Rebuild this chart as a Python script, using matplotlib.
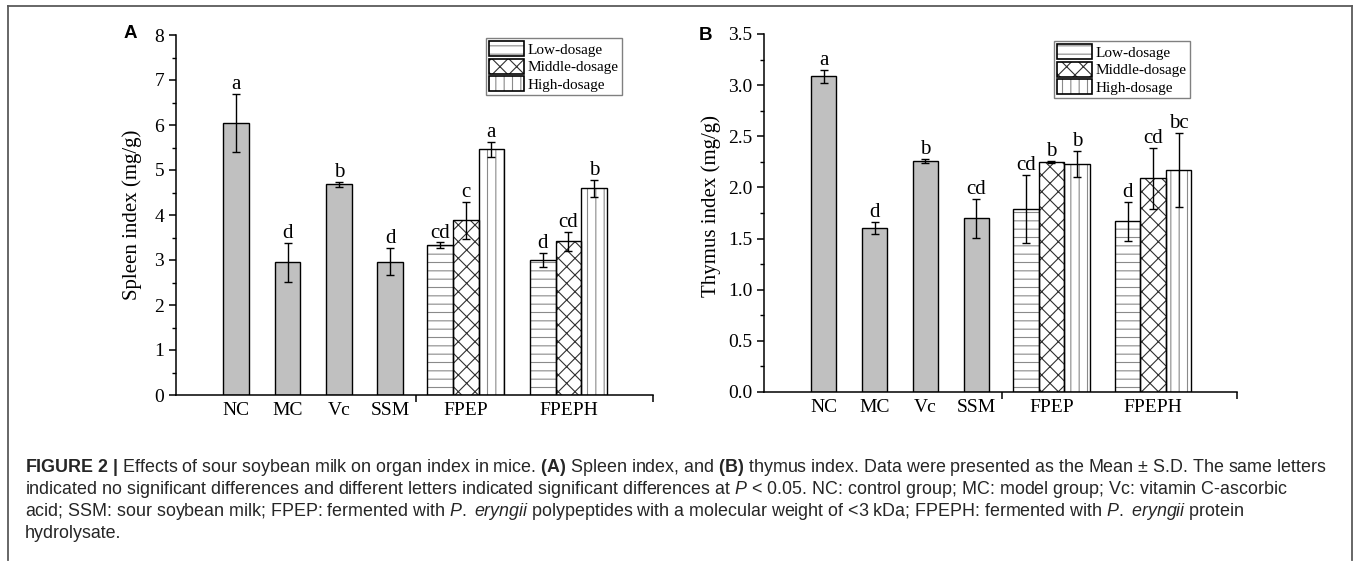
import matplotlib
matplotlib.use('Agg')
import matplotlib.pyplot as plt
from matplotlib.patches import Patch
from matplotlib.lines import Line2D
from matplotlib.ticker import MultipleLocator, FormatStrFormatter, FixedLocator

# ---------------- data ----------------
single_groups = ['NC', 'MC', 'Vc', 'SSM']
dosed_groups = ['FPEP', 'FPEPH']
dosages = ['Low-dosage', 'Middle-dosage', 'High-dosage']

spleen_single = [6.05, 2.95, 4.68, 2.96]
spleen_single_err = [0.65, 0.43, 0.06, 0.30]
spleen_single_letters = ['a', 'd', 'b', 'd']
spleen_dosed = [[3.33, 3.88, 5.46], [3.00, 3.42, 4.59]]
spleen_dosed_err = [[0.06, 0.41, 0.16], [0.15, 0.21, 0.18]]
spleen_dosed_letters = [['cd', 'c', 'a'], ['d', 'cd', 'b']]

thymus_single = [3.085, 1.60, 2.26, 1.70]
thymus_single_err = [0.06, 0.06, 0.02, 0.19]
thymus_single_letters = ['a', 'd', 'b', 'cd']
thymus_dosed = [[1.79, 2.25, 2.23], [1.67, 2.09, 2.17]]
thymus_dosed_err = [[0.33, 0.01, 0.13], [0.19, 0.30, 0.36]]
thymus_dosed_letters = [['cd', 'b', 'b'], ['d', 'cd', 'bc']]

# ---------------- style ----------------
W, H = 1357, 563
plt.rcParams['font.family'] = ['Liberation Serif', 'DejaVu Serif']
plt.rcParams['mathtext.fontset'] = 'custom'
plt.rcParams['mathtext.rm'] = 'Liberation Sans'
plt.rcParams['mathtext.bf'] = 'Liberation Sans:bold'
plt.rcParams['mathtext.it'] = 'Liberation Sans:italic'
plt.rcParams['hatch.linewidth'] = 0.8

single_x = [2.35, 4.35, 6.35, 8.35]
dosed_x = [11.3, 15.3]
sep_x = 9.35
x_max = 18.6
bar_w = 1.0
bar_gray = '#c0c0c0'
hatches = ['--', 'xx', '||']
hatch_cols = ['#8a8a8a', '#303030', '#8a8a8a']

fig = plt.figure(figsize=(W / 100, H / 100), dpi=100)


def fx(px):
    return px / W


def fy(py):
    return 1 - py / H


def draw_panel(ax, single, single_err, single_letters, dosed, dosed_err,
               dosed_letters, ymax, major, minor, fmt, ylabel, ylab_x, ylab_y):
    ax.bar(single_x, single, width=bar_w, color=bar_gray, edgecolor='black',
           linewidth=1.0, zorder=2)
    ax.errorbar(single_x, single, yerr=single_err, fmt='none', ecolor='black',
                elinewidth=1.0, capsize=3, capthick=1.0, zorder=3)
    for xi, v, e, lt in zip(single_x, single, single_err, single_letters):
        ax.annotate(lt, (xi, v + e), xytext=(0, 3.5), textcoords='offset points',
                    ha='center', va='baseline', fontsize=15)
    for gi, gx in enumerate(dosed_x):
        for di in range(3):
            xi = gx + (di - 1) * bar_w
            v = dosed[gi][di]
            e = dosed_err[gi][di]
            ax.bar(xi, v, width=bar_w, color='white', edgecolor=hatch_cols[di],
                   hatch=hatches[di], linewidth=0, zorder=2)
            ax.bar(xi, v, width=bar_w, fill=False, edgecolor='black',
                   linewidth=1.0, zorder=2.5)
            ax.errorbar([xi], [v], yerr=[e], fmt='none', ecolor='black',
                        elinewidth=1.0, capsize=3, capthick=1.0, zorder=3)
            ax.annotate(dosed_letters[gi][di], (xi, v + e), xytext=(0, 3.5),
                        textcoords='offset points', ha='center',
                        va='baseline', fontsize=15)
    ax.set_xlim(0, x_max)
    ax.set_ylim(0, ymax)
    for s in ['top', 'right']:
        ax.spines[s].set_visible(False)
    for s in ['left', 'bottom']:
        ax.spines[s].set_linewidth(1.1)
    ax.set_xticks(single_x + dosed_x)
    ax.set_xticklabels(single_groups + dosed_groups, fontsize=14)
    ax.xaxis.set_minor_locator(FixedLocator([sep_x, x_max - 1e-6]))
    ax.tick_params(axis='x', which='major', length=0, pad=5)
    ax.tick_params(axis='x', which='minor', length=5, width=1.1, direction='out')
    ax.yaxis.set_major_locator(MultipleLocator(major))
    ax.yaxis.set_minor_locator(MultipleLocator(minor))
    ax.yaxis.set_major_formatter(FormatStrFormatter(fmt))
    ax.tick_params(axis='y', which='major', length=5, width=1.1, direction='out',
                   labelsize=14, pad=3.5)
    ax.tick_params(axis='y', which='minor', length=3, width=1.0, direction='out')
    ax.set_ylabel(ylabel, fontsize=15, va='center')
    ax.yaxis.set_label_coords(ylab_x, ylab_y)


axA = fig.add_axes([fx(176), fy(395), fx(653) - fx(176), fy(35) - fy(395)])
axB = fig.add_axes([fx(764), fy(392), fx(1237) - fx(764), fy(34) - fy(392)])

draw_panel(axA, spleen_single, spleen_single_err, spleen_single_letters,
           spleen_dosed, spleen_dosed_err, spleen_dosed_letters,
           8, 1, 0.5, '%d', 'Spleen index (mg/g)', -0.092, 0.5)
draw_panel(axB, thymus_single, thymus_single_err, thymus_single_letters,
           thymus_dosed, thymus_dosed_err, thymus_dosed_letters,
           3.5, 0.5, 0.25, '%.1f', 'Thymus index (mg/g)', -0.112, 0.52)

# legends
handles = [(Patch(facecolor='white', edgecolor=hatch_cols[i], hatch=hatches[i], linewidth=0),
            Patch(fill=False, edgecolor='black', linewidth=1.2)) for i in range(3)]
for ax, (lx, ly) in [(axA, (486, 38)), (axB, (1054, 41))]:
    leg = ax.legend(handles, dosages, loc='upper left',
                    bbox_to_anchor=(fx(lx), fy(ly)), bbox_transform=fig.transFigure,
                    borderaxespad=0, borderpad=0.2, handlelength=2.3,
                    handleheight=1.15, labelspacing=0.12, handletextpad=0.25,
                    fancybox=False, framealpha=1, edgecolor='#808080',
                    prop={'family': 'Liberation Serif', 'size': 11})
    leg.get_frame().set_linewidth(1.0)

# panel letters
fig.text(fx(130), fy(34), 'A', fontsize=13.5, fontweight='bold',
         family='Liberation Sans', ha='center', va='center')
fig.text(fx(705), fy(35), 'B', fontsize=13.5, fontweight='bold',
         family='Liberation Sans', ha='center', va='center')

# frame lines
frame_col = '#5a5a5a'
fig.add_artist(Line2D([fx(8), fx(1352)], [fy(6), fy(6)], transform=fig.transFigure,
                      color=frame_col, lw=1.3))
fig.add_artist(Line2D([fx(8), fx(8)], [fy(6), fy(560)], transform=fig.transFigure,
                      color=frame_col, lw=1.3))
fig.add_artist(Line2D([fx(1352), fx(1352)], [fy(6), fy(560)], transform=fig.transFigure,
                      color=frame_col, lw=1.3))

# caption
caption_lines = [
    r"$\mathbf{FIGURE\ 2\ |}$ Effects of sour soybean milk on organ index in mice. "
    r"$\mathbf{(A)}$ Spleen index, and $\mathbf{(B)}$ thymus index. Data were presented as the Mean ± S.D. The same letters",
    r"indicated no significant differences and different letters indicated significant differences at $\mathit{P}$ < 0.05. "
    r"NC: control group; MC: model group; Vc: vitamin C-ascorbic",
    r"acid; SSM: sour soybean milk; FPEP: fermented with $\mathit{P.}$ $\mathit{eryngii}$ polypeptides with a molecular weight of <3 kDa; "
    r"FPEPH: fermented with $\mathit{P.}$ $\mathit{eryngii}$ protein",
    r"hydrolysate.",
]
caption_y = [467, 489, 511, 533]
for txt, yy in zip(caption_lines, caption_y):
    fig.text(fx(25), fy(yy), txt, fontsize=12.9, family='Liberation Sans',
             color='#262626', ha='left', va='center')

fig.savefig('out.png', dpi=100)
